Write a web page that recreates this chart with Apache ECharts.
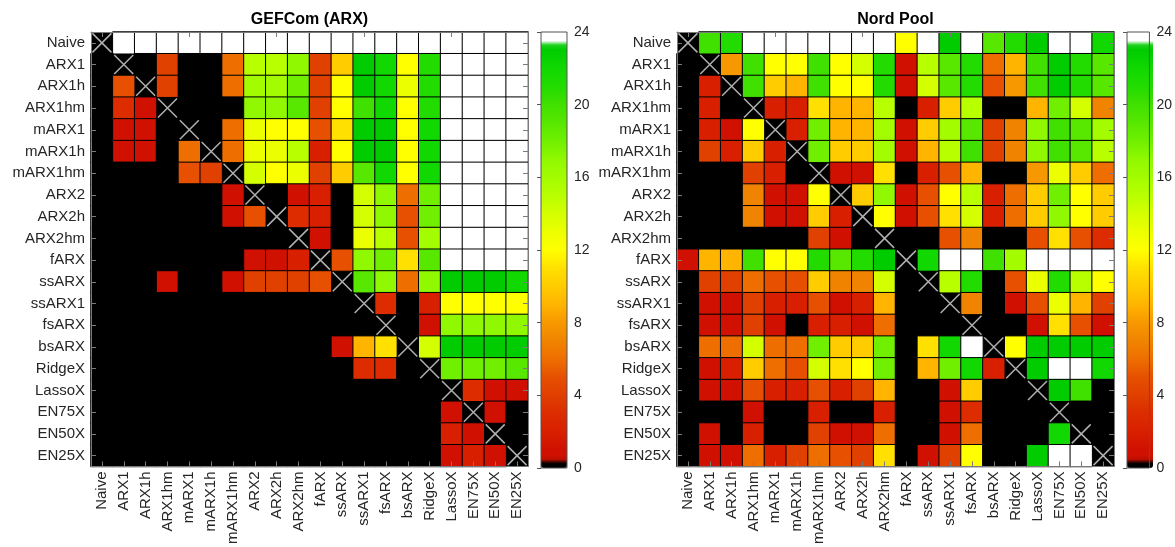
<!DOCTYPE html>
<html>
<head>
<meta charset="utf-8">
<script src="https://cdn.jsdelivr.net/npm/echarts@6/dist/echarts.min.js"></script>
<style>
html,body{margin:0;padding:0;background:#fff;}
#chart{width:1175px;height:547px;}
</style>
</head>
<body>
<div id="chart"></div>
<script>
// ---- data ----
const models = ['Naive','ARX1','ARX1h','ARX1hm','mARX1','mARX1h','mARX1hm','ARX2','ARX2h','ARX2hm','fARX','ssARX','ssARX1','fsARX','bsARX','RidgeX','LassoX','EN75X','EN50X','EN25X'];
const colorbarTicks = [0,4,8,12,16,20,24];
const titles = ['GEFCom (ARX)','Nord Pool'];

const gefcom = [
 [null,24,24,24,24,24,24,24,24,24,24,24,24,24,24,24,24,24,24,24],
 [0,null,0,4,0,0,6,15,15,17,4,10,23,22,12,21,24,24,24,24],
 [0,5,null,4,0,0,6,16,16,18,4,12,23,22,13,21,24,24,24,24],
 [0,3,1,null,0,0,0,17,17,19,4,12,20,22,12,21,24,24,24,24],
 [0,1,1,0,null,0,6,13,12,12,5,11,23,23,12,22,24,24,24,24],
 [0,1,1,0,6,null,6,13,13,15,2,12,23,23,12,22,24,24,24,24],
 [0,0,0,0,5,4,null,14,12,13,4,10,19,22,12,22,24,24,24,24],
 [0,0,0,0,0,0,1,null,0,1,2,0,14,17,6,18,24,24,24,24],
 [0,0,0,0,0,0,1,5,null,3,2,0,14,17,5,18,24,24,24,24],
 [0,0,0,0,0,0,0,0,0,null,1,0,13,15,5,16,24,24,24,24],
 [0,0,0,0,0,0,0,1,1,2,null,5,17,18,11,19,24,24,24,24],
 [0,0,0,1,0,0,1,4,4,4,5,null,19,17,6,17,23,23,23,22],
 [0,0,0,0,0,0,0,0,0,0,0,0,null,3,0,2,12,12,12,12],
 [0,0,0,0,0,0,0,0,0,0,0,0,0,null,0,1,17,17,17,17],
 [0,0,0,0,0,0,0,0,0,0,0,1,9,11,null,14,23,23,23,23],
 [0,0,0,0,0,0,0,0,0,0,0,0,3,3,0,null,18,18,18,19],
 [0,0,0,0,0,0,0,0,0,0,0,0,0,0,0,0,null,3,1,1],
 [0,0,0,0,0,0,0,0,0,0,0,0,0,0,0,0,1,null,1,0],
 [0,0,0,0,0,0,0,0,0,0,0,0,0,0,0,0,2,1,null,0],
 [0,0,0,0,0,0,0,0,0,0,0,0,0,0,0,0,1,2,1,null]
];

const nordpool = [
 [null,20,21,24,24,24,24,24,24,24,12,24,23,24,19,21,23,24,24,22],
 [0,null,8,20,12,12,20,12,14,21,1,15,19,21,6,9,20,23,21,19],
 [0,2,null,20,10,9,20,12,12,21,1,14,19,21,5,8,20,23,21,19],
 [0,2,0,null,2,2,11,9,9,15,0,2,10,15,0,0,9,18,14,7],
 [0,2,1,12,null,2,18,9,9,16,1,10,16,19,4,7,17,20,19,16],
 [0,4,2,10,2,null,18,10,10,16,1,9,15,20,4,7,17,20,19,15],
 [0,0,0,4,2,0,null,1,1,11,0,2,5,9,0,0,8,13,10,6],
 [0,0,0,7,1,1,12,null,10,17,1,5,12,15,2,6,10,18,12,10],
 [0,0,0,7,1,1,10,2,null,12,1,5,11,14,2,6,10,17,12,10],
 [0,0,0,0,0,0,4,1,0,null,0,0,5,7,0,0,5,11,5,3],
 [1,9,9,20,12,12,21,19,21,23,null,22,24,24,20,16,24,24,24,24],
 [0,4,4,6,5,5,10,7,7,14,0,null,15,21,0,5,13,21,15,12],
 [0,1,1,4,2,2,5,1,2,9,0,0,null,7,0,1,5,13,9,4],
 [0,1,1,4,1,0,2,2,1,6,0,0,0,null,0,0,1,11,5,1],
 [0,6,6,14,6,6,18,10,10,18,0,11,22,24,null,12,23,23,23,23],
 [0,1,2,10,6,5,14,11,12,18,0,9,18,22,2,null,23,24,24,22],
 [0,1,1,5,2,2,5,2,4,9,0,0,1,10,0,0,null,23,20,0],
 [0,0,0,1,0,0,2,0,0,2,0,0,1,3,0,0,0,null,0,0],
 [0,1,0,2,0,0,4,1,1,6,0,0,1,6,0,0,0,22,null,0],
 [0,1,1,6,2,4,6,5,4,11,0,1,4,12,0,0,23,24,24,null]
];

// ---- colour scale (style) ----
const palette = ['#000000','#d01000','#d82000','#dc2c00','#e04000','#e65000','#ee6e00','#f08400','#f89800','#ffb400','#ffcc00','#ffe000','#ffff00','#ecff00','#d4ff00','#b8ff00','#a4fc00','#90f800','#70f000','#58e800','#40e000','#22dc00','#10d800','#00cc00','#ffffff'];
function hex2rgb(h){return [parseInt(h.slice(1,3),16),parseInt(h.slice(3,5),16),parseInt(h.slice(5,7),16)];}
function colorAt(v){
  if(v < 0.5) return '#000000';
  if(v >= 23.5) return '#ffffff';
  v = Math.max(1, Math.min(23, v));
  const lo = Math.floor(v), hi = Math.min(23, lo+1), t = v-lo;
  const a = hex2rgb(palette[lo]), b = hex2rgb(palette[hi]);
  const c = a.map((x,i)=>Math.round(x+(b[i]-x)*t));
  return 'rgb('+c.join(',')+')';
}
const scaleColors = [];
for(let k=0;k<=96;k++) scaleColors.push(colorAt(k/4));

function toCells(m){
  const out=[];
  m.forEach((row,i)=>row.forEach((v,j)=>{ if(v!==null) out.push([j,i,v]); }));
  return out;
}
const diag = models.map((m,i)=>[i,i]);

// ---- layout ----
const FONT = '"Liberation Sans", Arial, Helvetica, sans-serif';
const plots = [
  {left:91, top:32, w:437, h:436, cbLeft:541},
  {left:677, top:32, w:437, h:436, cbLeft:1127}
];
const AX = '#7a7a7a';
const TXT = '#262626';

const grid=[], xAxis=[], yAxis=[], series=[], visualMap=[], graphic=[];
plots.forEach((p,k)=>{
  const g = grid.length;
  grid.push({left:p.left, top:p.top, width:p.w, height:p.h, show:true, backgroundColor:'#000', borderWidth:0});
  xAxis.push({type:'category', data:models, gridIndex:g, position:'bottom', z:4,
    axisLine:{show:true, lineStyle:{color:AX, width:1}},
    axisTick:{show:true, inside:true, alignWithLabel:true, length:5, lineStyle:{color:AX}},
    axisLabel:{interval:0, rotate:90, margin:5, fontSize:15, fontFamily:FONT, color:TXT},
    splitLine:{show:false}});
  xAxis.push({type:'category', data:models, gridIndex:g, position:'top', z:4,
    axisLine:{show:true, lineStyle:{color:AX, width:1}},
    axisTick:{show:true, inside:true, alignWithLabel:true, length:5, lineStyle:{color:AX}},
    axisLabel:{show:false}, splitLine:{show:false}});
  yAxis.push({type:'category', data:models, gridIndex:g, inverse:true, position:'left', z:4,
    axisLine:{show:true, lineStyle:{color:AX, width:1}},
    axisTick:{show:true, inside:true, alignWithLabel:true, length:5, lineStyle:{color:AX}},
    axisLabel:{interval:0, margin:6, fontSize:15, fontFamily:FONT, color:TXT},
    splitLine:{show:false}});
  yAxis.push({type:'category', data:models, gridIndex:g, inverse:true, position:'right', z:4,
    axisLine:{show:true, lineStyle:{color:AX, width:1}},
    axisTick:{show:true, inside:true, alignWithLabel:true, length:5, lineStyle:{color:AX}},
    axisLabel:{show:false}, splitLine:{show:false}});
  const xi = xAxis.length-2, yi = yAxis.length-2;
  const sIdx = series.length;
  series.push({type:'heatmap', xAxisIndex:xi, yAxisIndex:yi, data:toCells(k===0?gefcom:nordpool),
    itemStyle:{borderColor:'#000', borderWidth:1}, emphasis:{disabled:true}, z:2});
  series.push({type:'scatter', xAxisIndex:xi, yAxisIndex:yi, data:diag,
    symbol:'path://M0 0L10 10M10 0L0 10', symbolSize:19, silent:true,
    itemStyle:{color:'rgba(0,0,0,0)', borderColor:'#dcdcdc', borderWidth:1.5}, z:3});
  visualMap.push({type:'continuous', seriesIndex:sIdx, min:0, max:24, calculable:false, hoverLink:false,
    orient:'vertical', left:p.cbLeft, top:p.top, itemWidth:26, itemHeight:p.h, padding:0,
    text:null, inRange:{color:scaleColors}, z:4});
  // colourbar axis grid
  const cg = grid.length;
  grid.push({left:p.cbLeft, top:p.top, width:26, height:p.h, show:true, backgroundColor:'rgba(0,0,0,0)', borderColor:'#555', borderWidth:1, z:5});
  xAxis.push({type:'value', gridIndex:cg, show:false, min:0, max:1});
  yAxis.push({type:'value', gridIndex:cg, min:colorbarTicks[0], max:colorbarTicks[colorbarTicks.length-1], interval:4, position:'right', z:6,
    axisLine:{show:false},
    axisTick:{show:true, inside:true, length:4, lineStyle:{color:'#555'}},
    axisLabel:{margin:7, fontSize:14, fontFamily:FONT, color:TXT},
    splitLine:{show:false}});
  graphic.push({type:'text', x:p.left+p.w/2, y:20, z:10,
    style:{text:titles[k], textAlign:'center', textVerticalAlign:'middle', font:'bold 16px '+FONT, fill:'#000'}});
});

const chart = echarts.init(document.getElementById('chart'), null, {renderer:'canvas'});
chart.setOption({animation:false, backgroundColor:'#fff', grid, xAxis, yAxis, series, visualMap, graphic});
</script>
</body>
</html>
